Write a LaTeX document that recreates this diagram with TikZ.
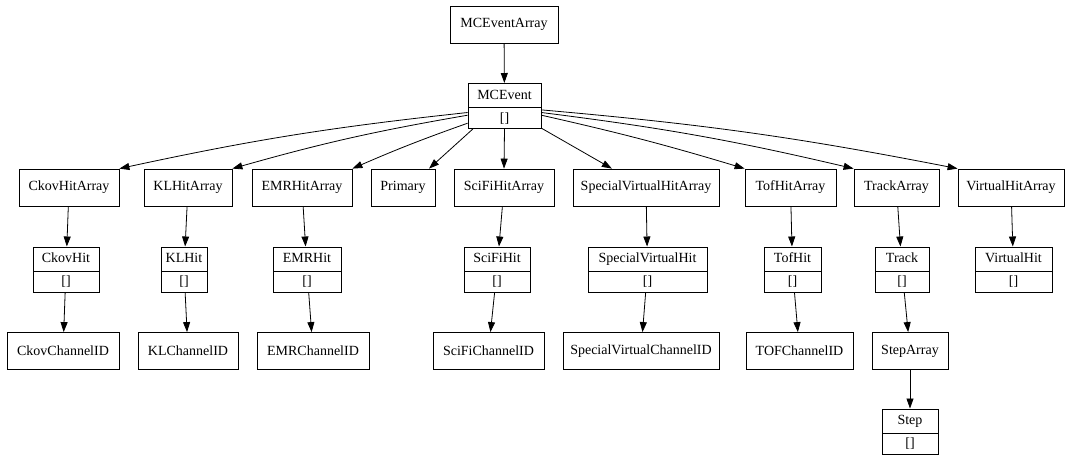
\documentclass[tikz,border=0pt]{standalone}
\usepackage{fontspec}
\setmainfont{Liberation Serif}
\usetikzlibrary{positioning,shapes.multipart,arrows.meta}
\tikzset{block/.style={draw, line width=0.8pt, minimum height=37pt, inner xsep=2pt, font=\fontsize{14}{16}\selectfont},
record/.style={draw, line width=0.8pt, rectangle split, rectangle split parts=2, inner xsep=2pt, inner ysep=4.25pt, text height=11pt, text depth=4pt, font=\fontsize{14}{16}\selectfont},
line/.style={line width=0.8pt, -{Triangle[length=10pt,width=7pt]}}
}

\begin{document}
\begin{tikzpicture}[x=1pt, y=-1pt]
    \useasboundingbox (0,0) rectangle (1065,456);
    % Top
    \node [block, minimum width=108pt] (evarray) at (504,24.5) {MCEventArray};
    \node [record, minimum width=73pt] (event) at (504.5,106) {MCEvent \nodepart{second} []};
    % Arrays
    \node [block, minimum width=100pt] (ckovarray) at (69,187.5) {CkovHitArray};
    \node [block, minimum width=88pt] (klarray) at (188,187.5) {KLHitArray};
    \node [block, minimum width=100pt] (emrarray) at (302,187.5) {EMRHitArray};
    \node [block, minimum width=64pt] (primary) at (403,187.5) {Primary};
    \node [block, minimum width=100pt] (scifiarray) at (504,187.5) {SciFiHitArray};
    \node [block, minimum width=146pt] (specarray) at (646,187.5) {SpecialVirtualHitArray};
    \node [block, minimum width=91pt] (tofarray) at (790.5,187.5) {TofHitArray};
    \node [block, minimum width=85pt] (trackarray) at (896.5,187.5) {TrackArray};
    \node [block, minimum width=106pt] (virtarray) at (1011,187.5) {VirtualHitArray};
    % Hits
    \node [record, minimum width=66pt] (ckovhit) at (66,269.5) {CkovHit \nodepart{second} []};
    \node [record, minimum width=46pt] (klhit) at (184,269.5) {KLHit \nodepart{second} []};
    \node [record, minimum width=68pt] (emrhit) at (307,269.5) {EMRHit \nodepart{second} []};
    \node [record, minimum width=66pt] (scifihit) at (497,269.5) {SciFiHit \nodepart{second} []};
    \node [record, minimum width=119pt] (spechit) at (647.5,269.5) {SpecialVirtualHit \nodepart{second} []};
    \node [record, minimum width=57pt] (tofhit) at (792.5,269.5) {TofHit \nodepart{second} []};
    \node [record, minimum width=54pt] (track) at (902,269.5) {Track \nodepart{second} []};
    \node [record, minimum width=77pt] (virthit) at (1013.5,269.5) {VirtualHit \nodepart{second} []};
    % Channels
    \node [block, minimum width=112pt] (ckovchan) at (63,351) {CkovChannelID};
    \node [block, minimum width=100pt] (klchan) at (188,351) {KLChannelID};
    \node [block, minimum width=112pt] (emrchan) at (313,351) {EMRChannelID};
    \node [block, minimum width=111pt] (scifichan) at (488.5,351) {SciFiChannelID};
    \node [block, minimum width=156pt] (specchan) at (641,351) {SpecialVirtualChannelID};
    \node [block, minimum width=107pt] (tofchan) at (799.5,351) {TOFChannelID};
    \node [block, minimum width=76pt] (steparray) at (910,351) {StepArray};
    \node [record, minimum width=56pt] (step) at (910,431.5) {Step \nodepart{second} []};
    % Arrows
    \draw [line] (evarray) -- (event);
    \draw [line] (event.190) to[bend right=3] (ckovarray.north east);
    \draw [line] (event.194) to[bend right=3] (klarray.north east);
    \draw [line] (event.205) to[bend right=2] (emrarray.north east);
    \draw [line] (event.216) -- (primary.36.5);
    \draw [line] (event.south) -- (scifiarray.north);
    \draw [line] (event.329) -- (specarray.151);
    \draw [line] (event.346) to[bend left=2] (tofarray.north west);
    \draw [line] (event.350) to[bend left=3] (trackarray.north west);
    \draw [line] (event.354) to[bend left=3] (virtarray.north west);
    \draw [line] (ckovarray) -- (ckovhit);
    \draw [line] (klarray) -- (klhit);
    \draw [line] (emrarray) -- (emrhit);
    \draw [line] (scifiarray) -- (scifihit);
    \draw [line] (specarray) -- (spechit);
    \draw [line] (tofarray) -- (tofhit);
    \draw [line] (trackarray) -- (track);
    \draw [line] (virtarray) -- (virthit);
    \draw [line] (ckovhit) -- (ckovchan);
    \draw [line] (klhit) -- (klchan);
    \draw [line] (emrhit) -- (emrchan);
    \draw [line] (scifihit) -- (scifichan);
    \draw [line] (spechit) -- (specchan);
    \draw [line] (tofhit) -- (tofchan);
    \draw [line] (track) -- (steparray);
    \draw [line] (steparray) -- (step);
  \end{tikzpicture}
\end{document}
